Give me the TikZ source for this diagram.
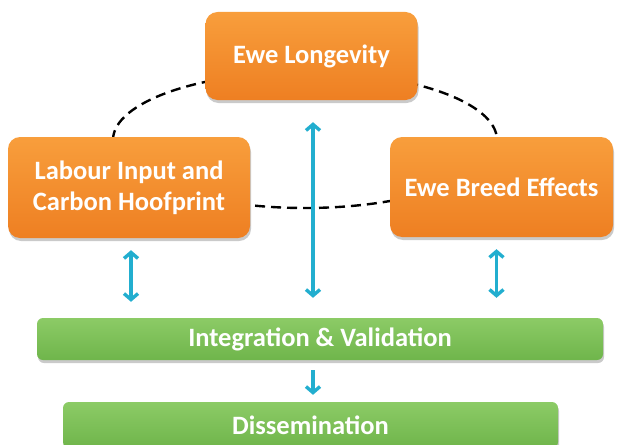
\documentclass[tikz,border=0pt]{standalone}
\usepackage{fontspec}
\setmainfont{Carlito}
\usetikzlibrary{arrows.meta,shadows}
\definecolor{orangetop}{HTML}{F89E3C}
\definecolor{orangebot}{HTML}{EE7F22}
\definecolor{greentop}{HTML}{8CCB66}
\definecolor{greenbot}{HTML}{6FB54B}
\definecolor{flow}{HTML}{22AECF}
\begin{document}
\begin{tikzpicture}[x=1pt,y=-1pt,
  box/.style={rectangle, rounded corners=12pt, top color=orangetop, bottom color=orangebot,
    draw=none, text=white, font=\bfseries\fontsize{26.5}{31}\selectfont, align=center,
    inner sep=0pt, drop shadow={shadow xshift=1pt, shadow yshift=-3pt, opacity=0.35, fill=black!60}},
  bar/.style={rectangle, rounded corners=6pt, top color=greentop, bottom color=greenbot,
    draw=none, text=white, font=\bfseries\fontsize{26.5}{31}\selectfont,
    inner sep=0pt, drop shadow={shadow xshift=1pt, shadow yshift=-3pt, opacity=0.35, fill=black!60}},
  tip/.tip={Straight Barb[length=6pt,width=14pt,line width=3.4pt]},
  link/.style={draw=flow, line width=3.2pt, tip-tip},
  down/.style={draw=flow, line width=3.2pt, -tip},
  loop/.style={draw=black, line width=2.4pt, dash pattern=on 10pt off 6pt}]
\useasboundingbox (0,0) rectangle (617,444);

% dashed ring linking the three study areas
\draw[loop] (305,140) ellipse [x radius=192, y radius=68];

% study areas
\node[box, minimum width=212pt, minimum height=88pt] (longevity) at (311.5,56) {Ewe Longevity};
\node[box, minimum width=242pt, minimum height=101pt] (labour) at (129,187.5) {Labour Input and\\Carbon Hoofprint};
\node[box, minimum width=223pt, minimum height=100pt] (breed) at (501.5,187) {Ewe Breed Effects};

% outputs
\node[bar, minimum width=566pt, minimum height=42pt] (integ) at (320,339) {Integration \& Validation};
\node[bar, minimum width=495pt, minimum height=46pt] (dissem) at (310.5,425) {Dissemination};

% flows
\draw[link, shorten <=12pt, shorten >=16pt] ([xshift=2pt]labour.south) -- ([xshift=2pt]labour.south |- integ.north);
\draw[link, shorten <=12pt, shorten >=20pt] ([xshift=-5pt]breed.south) -- ([xshift=-5pt]breed.south |- integ.north);
\draw[link, shorten <=22pt, shorten >=20pt] ([xshift=1.5pt]longevity.south) -- ([xshift=1.5pt]longevity.south |- integ.north);
\draw[down, shorten <=10pt, shorten >=7pt] ([xshift=-7pt]integ.south) -- ([xshift=-7pt]integ.south |- dissem.north);
\end{tikzpicture}
\end{document}
